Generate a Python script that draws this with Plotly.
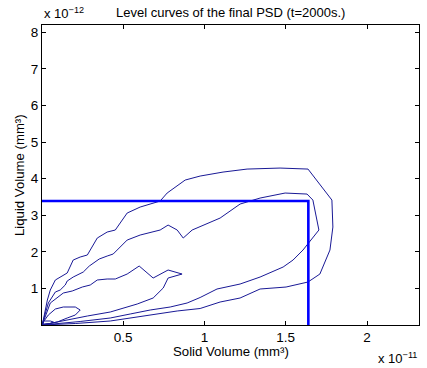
import plotly.graph_objects as go

# Data in units of 1e-11 mm^3 (solid) and 1e-12 mm^3 (liquid)
l1_x = [0.0, 0.008, 0.033, 0.051, 0.082, 0.112, 0.155, 0.192, 0.235, 0.279, 0.340, 0.401, 0.451, 0.524,
        0.604, 0.727, 0.770, 0.881, 0.973, 1.114, 1.262, 1.465, 1.637, 1.784, 1.790, 1.772, 1.710, 1.637,
        1.502, 1.342, 1.219, 1.096, 0.973, 0.832, 0.666, 0.420, 0.205, 0.020, 0.0]
l1_y = [0.0, 0.137, 0.683, 0.956, 1.230, 1.311, 1.421, 1.776, 1.858, 1.913, 2.377, 2.541, 2.596, 3.060,
        3.224, 3.388, 3.607, 3.962, 4.071, 4.180, 4.262, 4.290, 4.262, 3.415, 2.678, 2.049, 1.393, 1.175,
        1.038, 0.984, 0.738, 0.628, 0.451, 0.383, 0.273, 0.109, 0.041, 0.0, 0.0]

l2_x = [0.0, 0.008, 0.039, 0.082, 0.112, 0.143, 0.155, 0.192, 0.254, 0.291, 0.352, 0.401, 0.438, 0.524,
        0.604, 0.727, 0.776, 0.832, 0.869, 0.924, 0.992, 1.096, 1.219, 1.342, 1.496, 1.631, 1.667, 1.704,
        1.606, 1.545, 1.484, 1.342, 1.219, 1.077, 0.973, 0.893, 0.789, 0.666, 0.543, 0.420, 0.235, 0.051, 0.0]
l2_y = [0.0, 0.137, 0.601, 0.902, 0.956, 1.093, 1.202, 1.311, 1.448, 1.612, 1.803, 1.885, 1.940, 2.322,
        2.459, 2.596, 2.732, 2.596, 2.377, 2.596, 2.732, 2.923, 3.306, 3.470, 3.607, 3.579, 3.415, 2.596,
        2.049, 1.776, 1.585, 1.311, 1.120, 0.984, 0.751, 0.601, 0.492, 0.410, 0.301, 0.191, 0.096, 0.014, 0.0]

l3_x = [0.0, 0.008, 0.051, 0.094, 0.131, 0.186, 0.248, 0.297, 0.340, 0.401, 0.451, 0.524, 0.598, 0.684,
        0.776, 0.862, 0.776, 0.746, 0.684, 0.586, 0.420, 0.279, 0.155, 0.051, 0.0]
l3_y = [0.0, 0.082, 0.601, 0.738, 0.874, 0.929, 1.038, 1.093, 1.230, 1.257, 1.257, 1.393, 1.612, 1.284,
        1.503, 1.393, 1.284, 1.011, 0.738, 0.574, 0.355, 0.246, 0.137, 0.027, 0.0]

l4_x = [0.0, 0.008, 0.039, 0.082, 0.131, 0.205, 0.235, 0.205, 0.155, 0.094, 0.033, 0.0]
l4_y = [0.0, 0.082, 0.273, 0.437, 0.492, 0.492, 0.410, 0.273, 0.191, 0.082, 0.027, 0.0]

l5_x = [0.008, 0.051, 0.070, 0.051, 0.008, 0.008]
l5_y = [0.109, 0.109, 0.082, 0.041, 0.027, 0.109]

box_x = [0.0, 1.639, 1.639]
box_y = [3.39, 3.39, 0.0]

x_ticks = [0.5, 1, 1.5, 2]
x_tick_labels = ["0.5", "1", "1.5", "2"]
y_ticks = [1, 2, 3, 4, 5, 6, 7, 8]
y_tick_labels = ["1", "2", "3", "4", "5", "6", "7", "8"]

contour_color = "rgb(25,25,150)"
fig = go.Figure()
for xs, ys in [(l1_x, l1_y), (l2_x, l2_y), (l3_x, l3_y), (l4_x, l4_y), (l5_x, l5_y)]:
    fig.add_trace(go.Scatter(x=xs, y=ys, mode="lines",
                             line=dict(color=contour_color, width=1), hoverinfo="skip"))
fig.add_trace(go.Scatter(x=box_x, y=box_y, mode="lines",
                         line=dict(color="rgb(0,0,255)", width=2.6), hoverinfo="skip"))

font = "Liberation Sans, Arial, Helvetica, sans-serif"
fig.update_layout(
    width=427, height=368,
    margin=dict(l=42, r=8, t=25, b=43),
    paper_bgcolor="white", plot_bgcolor="white",
    showlegend=False,
    font=dict(family=font, size=13, color="black"),
    xaxis=dict(range=[0, 2.32], tickvals=x_ticks, ticktext=x_tick_labels,
               showline=True, mirror="allticks", linecolor="black", linewidth=1,
               ticks="inside", ticklen=4, tickcolor="black", showgrid=False, zeroline=False,
               tickfont=dict(size=13.5)),
    yaxis=dict(range=[0, 8.2], tickvals=y_ticks, ticktext=y_tick_labels,
               showline=True, mirror="allticks", linecolor="black", linewidth=1,
               ticks="inside", ticklen=4, tickcolor="black", showgrid=False, zeroline=False,
               tickfont=dict(size=13.5)),
    annotations=[
        dict(text="Level curves of the final PSD (t=2000s.)", xref="paper", yref="paper",
             x=0.5, y=1.0, yshift=13, showarrow=False, xanchor="center", yanchor="middle",
             font=dict(size=13)),
        dict(text="x 10<sup>−12</sup>", xref="paper", yref="paper", x=0, y=1.0, xshift=0, yshift=12,
             showarrow=False, xanchor="left", yanchor="middle", font=dict(size=13)),
        dict(text="x 10<sup>−11</sup>", xref="paper", yref="paper", x=1.0, y=0, yshift=-33,
             showarrow=False, xanchor="right", yanchor="middle", font=dict(size=13)),
        dict(text="Solid Volume (mm³)", xref="paper", yref="paper", x=0.5, y=0, yshift=-26,
             showarrow=False, xanchor="center", yanchor="middle", font=dict(size=13.2)),
        dict(text="Liquid Volume (mm³)", xref="paper", yref="paper", x=0, y=0.5, xshift=-23,
             showarrow=False, xanchor="center", yanchor="middle", textangle=-90, font=dict(size=13.2)),
    ],
)
fig.write_html("out.html")
